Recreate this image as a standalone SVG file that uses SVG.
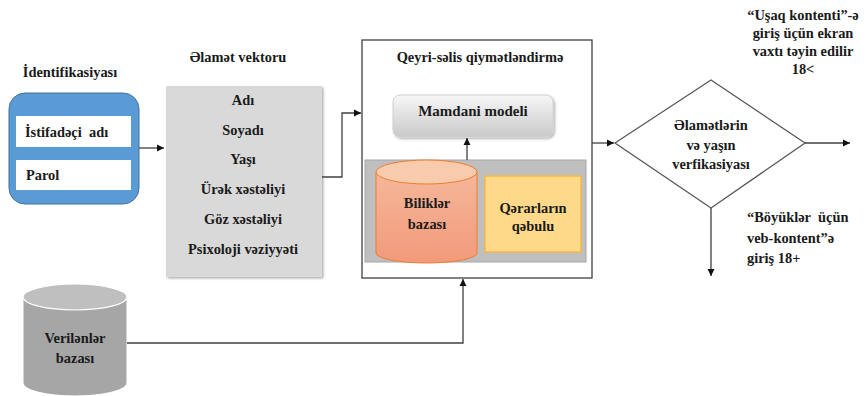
<svg xmlns="http://www.w3.org/2000/svg" width="866" height="396" viewBox="0 0 866 396" font-family="'Liberation Serif', 'Times New Roman', serif">
<defs>
<style>
text{font-family:'Liberation Serif','Times New Roman',serif;font-weight:bold;font-size:14.4px;fill:#1a1a1a;text-anchor:middle}
.ln{fill:none;stroke:#404040;stroke-width:1.3}
.lt{text-anchor:start}
</style>
<marker id="ah" markerWidth="8" markerHeight="8" refX="7" refY="4" orient="auto" markerUnits="userSpaceOnUse">
<path d="M0,0.5 L7,4 L0,7.5 Z" fill="#111"/>
</marker>
<linearGradient id="gm" x1="0" y1="0" x2="0" y2="1">
<stop offset="0" stop-color="#f7f7f7"/><stop offset="1" stop-color="#c9c9c9"/>
</linearGradient>
<linearGradient id="gb" x1="0" y1="0" x2="0" y2="1">
<stop offset="0" stop-color="#f6b79a"/><stop offset="1" stop-color="#f29a7a"/>
</linearGradient>
<filter id="sh" x="-10%" y="-10%" width="130%" height="130%">
<feDropShadow dx="1.5" dy="1.5" stdDeviation="1" flood-color="#000" flood-opacity="0.3"/>
</filter>
</defs>

<g id="identifikasiya">
<text x="70" y="77">İdentifikasiyası</text>
<rect x="9" y="93" width="130" height="111" rx="16" fill="#5b9bd5" stroke="#41719c" stroke-width="1"/>
<rect x="16" y="116" width="115" height="31" fill="#fff"/>
<text x="25" y="137" class="lt">İstifadəçi<tspan x="89">adı</tspan></text>
<rect x="16" y="160" width="115" height="30" fill="#fff"/>
<text x="26" y="180" class="lt">Parol</text>
</g>

<g id="elamet-vektoru">
<text x="238" y="62">Əlamət vektoru</text>
<rect x="166" y="86" width="156" height="191" fill="#d9d9d9" filter="url(#sh)"/>
<text x="243" y="105">Adı</text>
<text x="243" y="135">Soyadı</text>
<text x="243" y="164">Yaşı</text>
<text x="243" y="194">Ürək xəstəliyi</text>
<text x="243" y="224">Göz xəstəliyi</text>
<text x="243" y="254">Psixoloji vəziyyəti</text>
</g>

<g id="qeyri-selis">
<rect x="362" y="40" width="230" height="238" fill="#fff" stroke="#404040" stroke-width="1.3"/>
<text x="480" y="62">Qeyri-səlis qiymətləndirmə</text>
<rect x="365" y="160" width="221" height="102" fill="#bfbfbf" stroke="#a6a6a6" stroke-width="1"/>
</g>

<g id="mamdani">
<rect x="393" y="95" width="160" height="42" rx="7" fill="url(#gm)" stroke="#d0d0d0" stroke-width="1" filter="url(#sh)"/>
<text x="473" y="116" style="font-size:15px">Mamdani modeli</text>
</g>

<g id="bilikler">
<path d="M376,172 L376,253 A50.5,10 0 0 0 477,253 L477,172" fill="url(#gb)" stroke="#ed7d31" stroke-width="1"/>
<ellipse cx="426.5" cy="172" rx="50.5" ry="12" fill="#f8cbad" stroke="#ed7d31" stroke-width="1"/>
<text x="427" y="208">Biliklər</text>
<text x="427" y="229">bazası</text>
</g>

<g id="qerarlar">
<rect x="485" y="176" width="96" height="76" fill="#ffd98a" stroke="#f4b942" stroke-width="1.5"/>
<text x="533" y="213">Qərarların</text>
<text x="533" y="231">qəbulu</text>
</g>

<g id="verifikasiya">
<polygon points="615,143 711,80 805,143 711,208" fill="#fff" stroke="#595959" stroke-width="1.3"/>
<text x="711" y="130">Əlamətlərin</text>
<text x="711" y="150">və yaşın</text>
<text x="711" y="169">verfikasiyası</text>
</g>

<g id="usaq">
<text x="803" y="20">“Uşaq kontenti”-ə</text>
<text x="803" y="38">giriş üçün ekran</text>
<text x="803" y="56">vaxtı təyin edilir</text>
<text x="803" y="74">18&lt;</text>
</g>

<g id="boyukler">
<text x="747" y="222" class="lt">“Böyüklər<tspan x="818">üçün</tspan></text>
<text x="747" y="243" class="lt">veb-kontent”ə</text>
<text x="747" y="263" class="lt">giriş 18+</text>
</g>

<g id="verilenler">
<path d="M23,297 L23,383 A52,13 0 0 0 127,383 L127,297" fill="#a6a6a6" stroke="#ffffff" stroke-width="1"/>
<ellipse cx="75" cy="297" rx="52" ry="13" fill="#bfbfbf" stroke="#ffffff" stroke-width="1.2"/>
<text x="75" y="343">Verilənlər</text>
<text x="75" y="363">bazası</text>
</g>

<g id="connectors">
<path class="ln" d="M139,148 L164,148" marker-end="url(#ah)"/>
<path class="ln" d="M322,177 L342,177 L342,113 L361,113" marker-end="url(#ah)"/>
<path class="ln" d="M467,160 L467,138" marker-end="url(#ah)"/>
<path class="ln" d="M592,143 L614,143" marker-end="url(#ah)"/>
<path class="ln" d="M805,143 L850,143" marker-end="url(#ah)"/>
<path class="ln" d="M711,208 L711,276" marker-end="url(#ah)"/>
<path class="ln" d="M127,343 L463,343 L463,279" marker-end="url(#ah)"/>
</g>
</svg>
